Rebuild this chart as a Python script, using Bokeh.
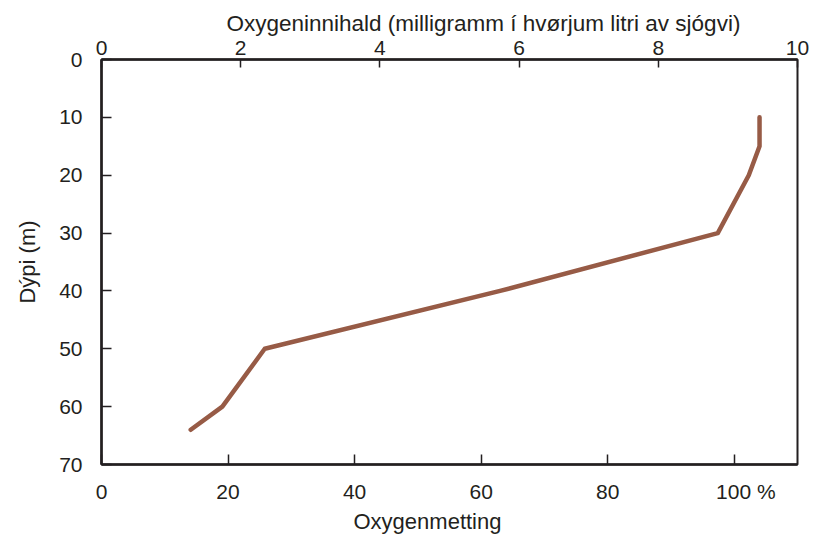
from bokeh.plotting import figure
from bokeh.models import Range1d, LinearAxis, FixedTicker, ColumnDataSource, Title
from bokeh.embed import file_html
from bokeh.resources import INLINE

# Oxygen profile: saturation (%) against depth (m)
depth_m = [10, 15, 20, 30, 40, 50, 60, 64]
saturation_pct = [104.0, 104.0, 102.3, 97.4, 63.0, 25.8, 19.1, 14.1]

depth_ticks = [0, 10, 20, 30, 40, 50, 60, 70]
pct_ticks = [0, 20, 40, 60, 80, 100]
mg_ticks = [0, 2, 4, 6, 8, 10]

TEXT = "#231f20"
FONT = "Liberation Sans"
LINE_COLOR = "#975b46"
NBSP = "\u00a0"

p = figure(
    frame_width=696, frame_height=405,
    min_border_left=101, min_border_right=26,
    min_border_top=59, min_border_bottom=70,
    x_range=Range1d(0, 110), y_range=Range1d(70, 0),
    x_axis_location=None, y_axis_location=None,
    output_backend="svg", toolbar_location=None,
    background_fill_color="white", border_fill_color="white",
)
p.grid.visible = False
p.outline_line_color = TEXT
p.outline_line_width = 2

p.extra_x_ranges = {"mg": Range1d(0, 10)}


def style(ax, tick_len, standoff, label_standoff=0):
    ax.axis_line_color = TEXT
    ax.axis_line_width = 2.5
    ax.major_tick_line_color = TEXT
    ax.major_tick_line_width = 1.5
    ax.major_tick_in = tick_len
    ax.major_tick_out = 0
    ax.minor_tick_line_color = None
    ax.major_label_text_font = FONT
    ax.major_label_text_font_size = "21px"
    ax.major_label_text_color = TEXT
    ax.major_label_standoff = standoff
    ax.axis_label_text_font = FONT
    ax.axis_label_text_font_size = "22px"
    ax.axis_label_text_font_style = "normal"
    ax.axis_label_text_color = TEXT
    ax.axis_label_standoff = label_standoff


def caption(text, size, offset, standoff):
    return Title(text=text, align="left", offset=offset, standoff=standoff,
                 text_font=FONT, text_font_size=size, text_font_style="normal",
                 text_color=TEXT)


bottom = LinearAxis(ticker=FixedTicker(ticks=pct_ticks))
style(bottom, 10, 15)
# the percent sign trails the last label while "100" stays centred on its tick
bottom.major_label_overrides = {100: NBSP * 4 + "100 %"}
p.add_layout(bottom, "below")
p.add_layout(caption("Oxygenmetting", "22px", 252, 2), "below")

left = LinearAxis(axis_label="Dýpi (m)", ticker=FixedTicker(ticks=depth_ticks))
style(left, 10, 19, 16)
p.add_layout(left, "left")

top = LinearAxis(x_range_name="mg", ticker=FixedTicker(ticks=mg_ticks))
style(top, 8, 5)
p.add_layout(top, "above")
p.add_layout(caption("Oxygeninnihald (milligramm í hvørjum litri av sjógvi)", "22.5px", 125, 4),
             "above")

src = ColumnDataSource(data=dict(x=saturation_pct, y=depth_m))
p.line("x", "y", source=src, line_color=LINE_COLOR, line_width=4.5,
       line_cap="round", line_join="round")

open("out.html", "w").write(file_html(p, INLINE))
